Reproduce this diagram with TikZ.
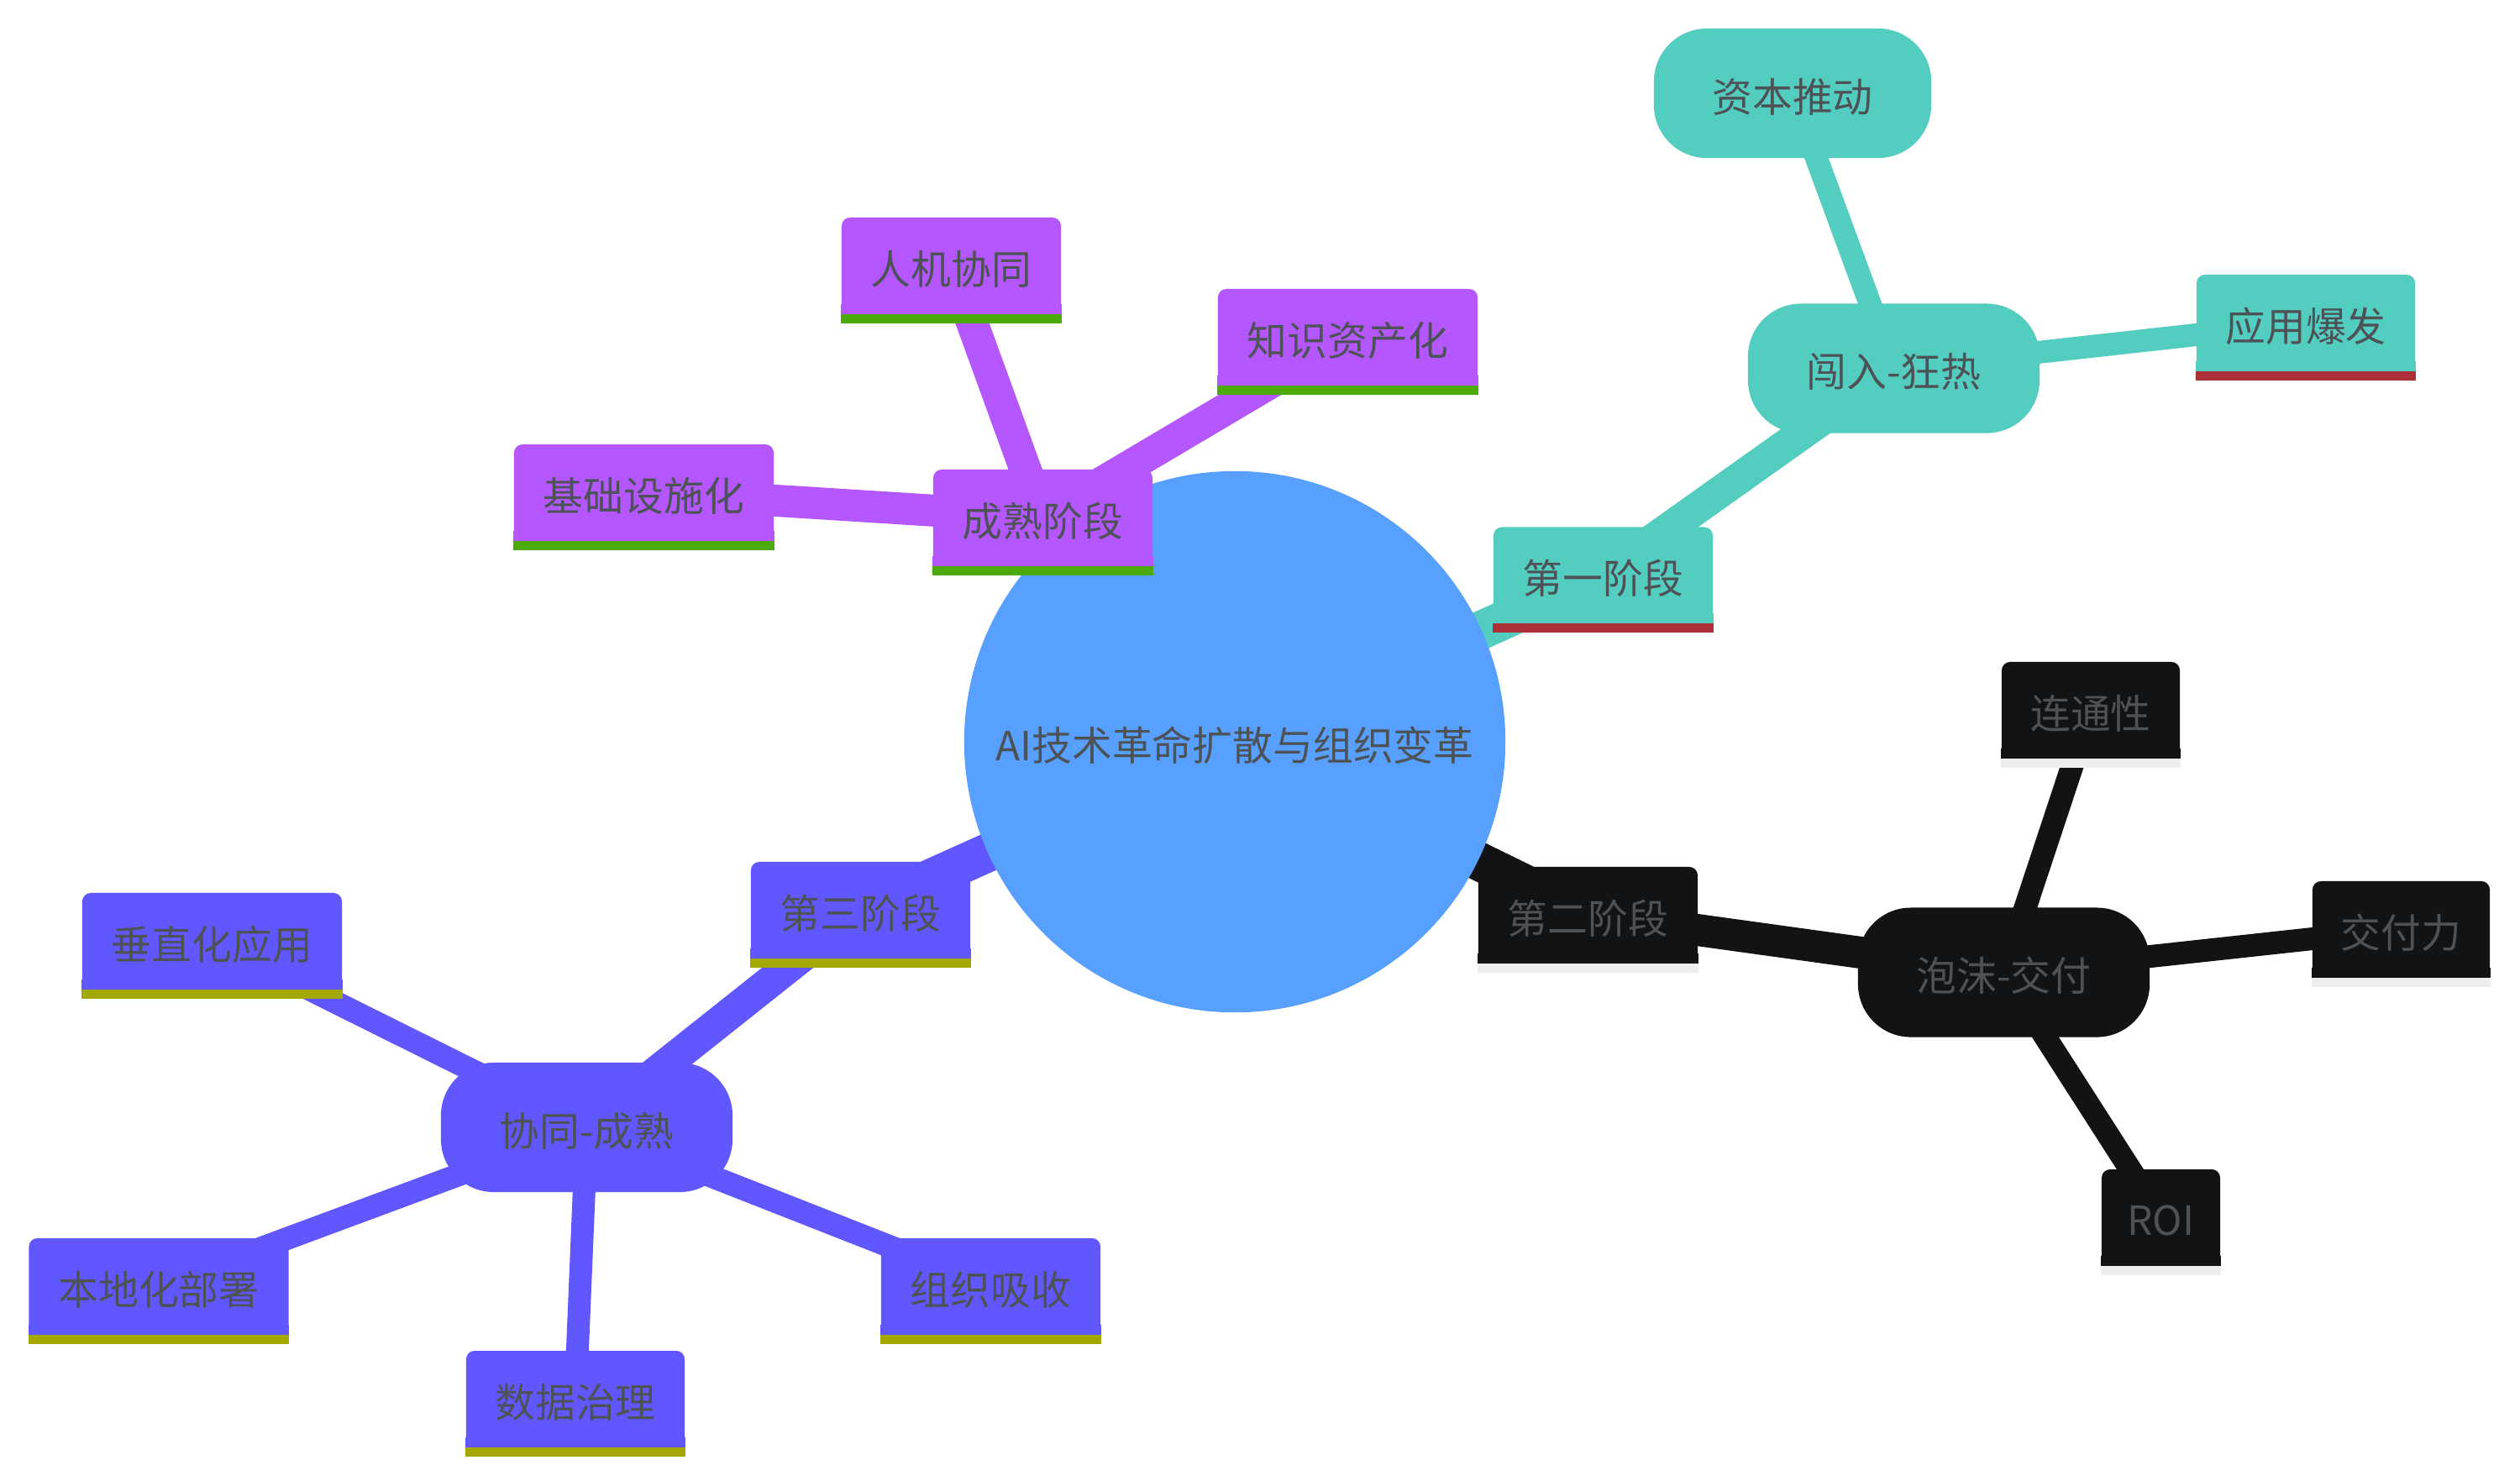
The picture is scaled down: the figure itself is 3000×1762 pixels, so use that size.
\documentclass[tikz,border=0pt]{standalone}
\usepackage{fontspec}
\setmainfont{Noto Sans CJK SC}
\usetikzlibrary{backgrounds}
\definecolor{rootblue}{HTML}{57A0FF}
\definecolor{tealc}{HTML}{54CDC1}
\definecolor{redu}{HTML}{AD3039}
\definecolor{blackc}{HTML}{111314}
\definecolor{greyu}{HTML}{EEEDEB}
\definecolor{purplec}{HTML}{B557FF}
\definecolor{greenu}{HTML}{4CA90A}
\definecolor{violetc}{HTML}{6157FF}
\definecolor{oliveu}{HTML}{A3A800}
\definecolor{txtc}{HTML}{4D5257}
\newcommand\nodefont{\fontsize{13.6pt}{16pt}\selectfont}
\newcommand\dn[1]{\raisebox{-0.4mm}[\height][\depth]{#1}}
\tikzset{
  leafbox/.style={rectangle, rounded corners=1mm, inner sep=0pt, minimum height=11.4mm, text=txtc, font=\nodefont},
  roundbox/.style={rectangle, rounded corners=6.3mm, inner sep=0pt, minimum height=15.4mm, text=txtc, font=\nodefont},
  rootnode/.style={circle, inner sep=0pt, minimum size=6.44cm, fill=rootblue, text=txtc, font=\nodefont},
  ezero/.style={line width=4.6mm},
  eone/.style={line width=3.8mm},
  etwo/.style={line width=2.7mm},
}
\newcommand\leaf[7]{%
  \node[leafbox, fill=#5, minimum width=#4] (#1) at (#2,#3) {\dn{#7}};
  \fill[#5] ([yshift=1.2mm]#1.south west) rectangle (#1.south east);
  \fill[#6] (#1.south west) rectangle ([yshift=-1.1mm]#1.south east);
}
\begin{document}
\begin{tikzpicture}[x=0.01cm, y=-0.01cm]
\useasboundingbox (0,0) rectangle (3000,1762);
\node[rootnode] (root) at (1470,883) {\dn{AI技术革命扩散与组织变革}};
% teal
\leaf{t1}{1908.5}{684.5}{2.61cm}{tealc}{redu}{第一阶段}
\node[roundbox, fill=tealc, minimum width=3.47cm] (t2) at (2254.5,438.5) {\dn{闯入-狂热}};
\node[roundbox, fill=tealc, minimum width=3.30cm] (t3) at (2134,111) {\dn{资本推动}};
\leaf{t4}{2745}{384}{2.60cm}{tealc}{redu}{应用爆发}
% black
\leaf{b1}{1890.5}{1089}{2.61cm}{blackc}{greyu}{第二阶段}
\node[roundbox, fill=blackc, minimum width=3.47cm] (b2) at (2385.5,1157.5) {\dn{泡沫-交付}};
\leaf{b3}{2489}{845}{2.12cm}{blackc}{greyu}{连通性}
\leaf{b4}{2858.5}{1106}{2.11cm}{blackc}{greyu}{交付力}
\leaf{b5}{2572.5}{1449}{1.41cm}{blackc}{greyu}{ROI}
% violet
\leaf{v1}{1024.5}{1083}{2.61cm}{violetc}{oliveu}{第三阶段}
\node[roundbox, fill=violetc, minimum width=3.47cm] (v2) at (698.5,1342) {\dn{协同-成熟}};
\leaf{v3}{252.5}{1120}{3.09cm}{violetc}{oliveu}{垂直化应用}
\leaf{v4}{189}{1531}{3.09cm}{violetc}{oliveu}{本地化部署}
\leaf{v5}{685}{1665}{2.60cm}{violetc}{oliveu}{数据治理}
\leaf{v6}{1179.5}{1531}{2.61cm}{violetc}{oliveu}{组织吸收}
% purple
\leaf{p1}{1241.5}{616}{2.61cm}{purplec}{greenu}{成熟阶段}
\leaf{p2}{1132.5}{316}{2.61cm}{purplec}{greenu}{人机协同}
\leaf{p3}{1604.5}{401}{3.09cm}{purplec}{greenu}{知识资产化}
\leaf{p4}{766.5}{586}{3.09cm}{purplec}{greenu}{基础设施化}
\begin{scope}[on background layer]
\fill[white] (0,0) rectangle (3000,1762);
\draw[tealc,ezero] (root.center) -- (t1.center);
\draw[tealc,eone] (t1.center) -- (t2.center);
\draw[tealc,etwo] (t2.center) -- (t3.center);
\draw[tealc,etwo] (t2.center) -- (t4.center);
\draw[blackc,ezero] (root.center) -- (b1.center);
\draw[blackc,eone] (b1.center) -- (b2.center);
\draw[blackc,etwo] (b2.center) -- (b3.center);
\draw[blackc,etwo] (b2.center) -- (b4.center);
\draw[blackc,etwo] (b2.center) -- (b5.center);
\draw[violetc,ezero] (root.center) -- (v1.center);
\draw[violetc,eone] (v1.center) -- (v2.center);
\draw[violetc,etwo] (v2.center) -- (v3.center);
\draw[violetc,etwo] (v2.center) -- (v4.center);
\draw[violetc,etwo] (v2.center) -- (v5.center);
\draw[violetc,etwo] (v2.center) -- (v6.center);
\draw[purplec,ezero] (root.center) -- (p1.center);
\draw[purplec,eone] (p1.center) -- (p2.center);
\draw[purplec,eone] (p1.center) -- (p3.center);
\draw[purplec,eone] (p1.center) -- (p4.center);
\end{scope}
\end{tikzpicture}
\end{document}
